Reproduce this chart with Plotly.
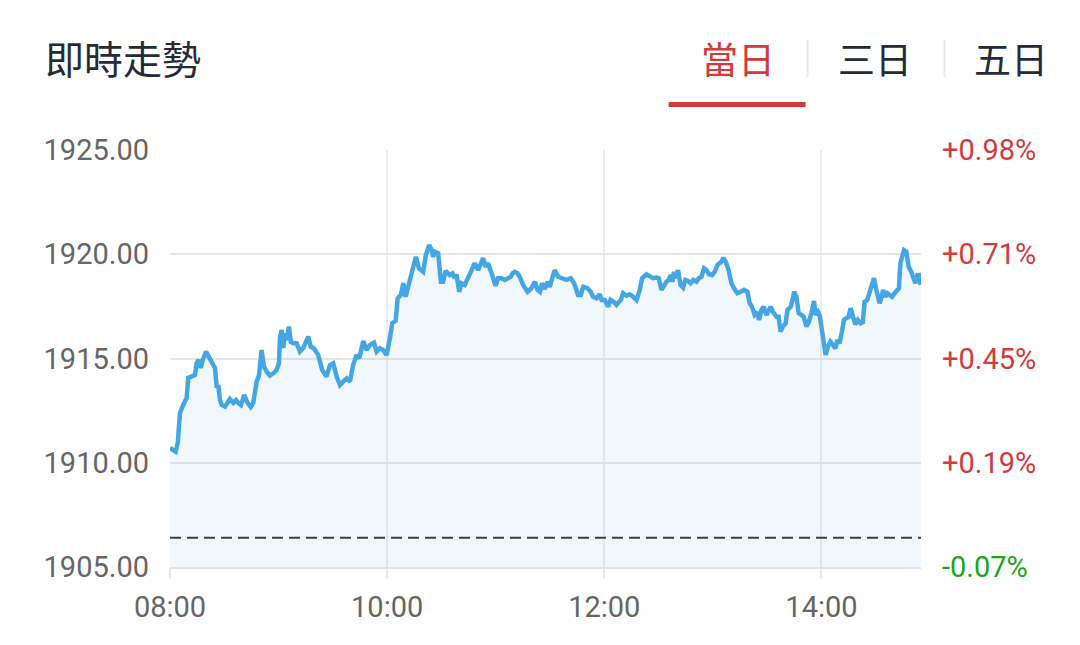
import plotly.graph_objects as go

# ---------------- data ----------------
# minutes after 08:00
minutes = [
    0, 3.1, 4.3, 5.5, 7.3, 9.2, 10.1, 12.0, 13.8, 14.7, 16.0, 17.0, 18.1, 19.9, 22.1, 23.9, 24.9, 25.8, 26.7, 27.6,
    28.6, 30.4, 33.1, 35.0, 36.5, 37.7, 39.2, 41.0, 42.9, 44.6, 46.0, 47.9, 49.2, 50.6, 51.9, 53.4, 55.2, 57.1, 58.9, 60.2,
    60.8, 61.7, 62.6, 63.5, 64.5, 65.7, 66.8, 68.1, 70.0, 71.8, 73.6, 76.4, 77.7, 79.5, 81.9,
    84.1, 86.5, 88.4, 90.2, 92.1, 93.9, 95.7, 97.6, 99.4, 101.2, 103.1, 104.6, 106.8, 108.6, 110.5, 112.7, 114.2, 116.0,
    117.8, 119.7, 121.5, 122.8, 124.7, 125.8, 127.6, 128.9, 130.2, 131.6, 133.5, 135.9, 137.5, 139.9, 141.4, 143.2, 144.6,
    145.4, 146.4, 148.2, 149.7, 150.9, 152.3, 154.6, 156.1, 157.4, 158.3, 159.8, 161.1, 162.9,
    165.7, 168.4, 170.3, 173.0, 174.4, 175.8, 177.7, 179.9, 181.3, 183.2, 185.0, 186.8, 188.3, 189.3, 190.5, 192.0, 193.3,
    195.1, 197.6, 199.7, 201.6, 203.1, 204.4, 205.6, 207.1, 208.6, 209.9, 211.2, 212.6, 214.5, 216.3, 219.1, 221.5, 223.3,
    225.5, 227.0, 228.3, 230.7, 232.5, 233.8, 235.7, 237.5, 238.5, 240.3, 242.1, 243.4, 245.2, 246.7,
    249.1, 250.4, 252.2, 254.0, 255.9, 257.8, 259.6, 260.9, 263.3, 265.1, 266.9, 268.8, 270.1, 271.6, 273.0, 274.3, 275.6,
    276.7, 277.6, 278.5, 279.5, 280.7, 282.1, 283.5, 284.8, 286.3, 287.7, 289.2, 290.9, 292.2, 293.7, 295.1, 296.4, 297.9,
    299.5, 301.0, 302.5, 303.8, 304.7, 305.8, 307.1, 308.7, 310.2, 311.7, 313.5, 315.4, 317.2, 319.1, 320.3, 321.6, 323.1,
    324.6, 325.5, 326.8, 328.1, 329.6,
    331.9, 333.2, 335.1, 336.3, 337.4, 338.7, 340.2, 341.2, 343.0, 344.0, 344.9, 346.2, 347.4, 348.9, 350.2, 351.7, 353.1,
    354.4, 355.9, 356.8, 358.1, 359.0, 360.3, 361.4, 362.3, 363.6, 364.9, 366.3, 367.7, 368.8, 370.0, 371.3, 372.4, 373.7,
    375.0, 376.1, 377.4, 378.7, 380.1, 381.6, 382.9, 383.8, 385.3, 386.6, 387.9, 389.0, 390.3, 391.2, 392.1, 393.1, 394.0,
    395.3, 396.4, 397.7, 399.0, 400.4, 401.9, 402.8, 403.6, 404.7, 405.6, 406.9, 408.2, 409.6, 410.9, 411.9, 413.0, 413.9,
    414.8,
]

prices = [
    1910.71, 1910.53, 1910.95, 1912.39, 1912.77, 1913.11, 1914.07, 1914.13, 1914.21, 1914.78, 1914.93, 1914.54, 1914.93,
    1915.33, 1915.02, 1914.69, 1914.54, 1913.59, 1913.73, 1913.01, 1912.77, 1912.69, 1913.06, 1912.87, 1913.01, 1912.87,
    1912.77, 1913.25, 1912.87, 1912.67, 1912.87, 1913.89, 1914.21, 1915.41, 1914.61, 1914.37, 1914.18, 1914.29, 1914.45,
    1914.77, 1916.05, 1916.37, 1915.50, 1916.21, 1915.89, 1916.53, 1915.81, 1915.73, 1915.73, 1915.33, 1915.50, 1916.05,
    1915.57, 1915.49, 1915.17,
    1914.45, 1914.13, 1914.69, 1914.77, 1914.13, 1913.73, 1913.89, 1914.05, 1913.89, 1914.69, 1915.17, 1915.01, 1915.84,
    1915.41, 1915.65, 1915.76, 1915.33, 1915.49, 1915.41, 1915.17, 1915.97, 1916.69, 1916.81, 1917.89, 1918.05, 1918.61,
    1917.96, 1918.53, 1919.09, 1919.88, 1919.33, 1919.16, 1919.96, 1920.44, 1920.20, 1919.88, 1920.12, 1920.05, 1918.68,
    1918.68, 1919.20, 1919.00, 1919.08, 1918.85, 1919.04, 1918.20, 1918.61, 1918.53,
    1919.00, 1919.57, 1919.24, 1919.81, 1919.40, 1919.57, 1919.09, 1918.49, 1918.85, 1918.85, 1918.77, 1918.85, 1918.92,
    1919.09, 1919.16, 1919.09, 1918.92, 1918.53, 1918.20, 1918.37, 1918.68, 1918.29, 1918.20, 1918.61, 1918.33, 1918.68,
    1918.44, 1918.85, 1919.24, 1918.92, 1918.85, 1918.77, 1918.85, 1918.61, 1918.05, 1918.05, 1918.44, 1918.37, 1918.20,
    1917.96, 1917.89, 1918.08, 1917.81, 1917.81, 1917.48, 1917.81, 1917.72, 1917.57,
    1917.81, 1918.13, 1918.01, 1918.08, 1917.96, 1917.81, 1918.29, 1918.85, 1919.04, 1918.96, 1918.85, 1918.88, 1918.85,
    1918.29, 1918.53, 1918.68, 1918.77, 1919.00, 1918.68, 1919.16, 1918.85, 1919.24, 1918.53, 1918.40, 1918.77, 1918.72,
    1918.61, 1918.77, 1918.68, 1918.85, 1918.92, 1919.33, 1919.24, 1919.04, 1919.00, 1919.16, 1919.48, 1919.57, 1919.64,
    1919.83, 1919.64, 1919.24, 1918.61, 1918.37, 1918.13, 1918.20, 1918.29, 1918.20, 1917.65, 1917.48, 1917.09, 1917.22,
    1916.85, 1917.33, 1917.48, 1917.09,
    1917.48, 1917.24, 1917.00, 1917.00, 1916.29, 1916.53, 1916.69, 1917.33, 1917.48, 1917.81, 1918.20, 1917.96, 1917.17,
    1917.09, 1917.00, 1916.53, 1916.77, 1917.17, 1917.76, 1917.09, 1917.24, 1917.09, 1916.29, 1915.57, 1915.17, 1915.57,
    1915.81, 1915.65, 1915.49, 1915.89, 1915.73, 1916.29, 1916.85, 1916.93, 1917.00, 1917.41, 1917.00, 1916.64, 1916.85,
    1916.69, 1916.74, 1917.72, 1917.81, 1918.13, 1918.44, 1918.85, 1918.29, 1917.81, 1917.65, 1917.89, 1918.29, 1917.96,
    1918.13, 1918.05, 1917.96, 1918.13, 1918.32, 1918.37, 1919.57, 1919.96, 1920.20, 1920.12, 1919.40, 1919.16, 1918.77,
    1918.61, 1919.00, 1919.00, 1918.53,
]

prev_close = 1906.4

x_tick_vals = [0, 120, 240, 360]
x_tick_labels = ["08:00", "10:00", "12:00", "14:00"]
y_tick_vals = [1905, 1910, 1915, 1920, 1925]
y_tick_labels = ["1905.00", "1910.00", "1915.00", "1920.00", "1925.00"]
pct_labels = ["-0.07%", "+0.19%", "+0.45%", "+0.71%", "+0.98%"]

title_text = "即時走勢"
tabs = ["當日", "三日", "五日"]

# ---------------- styling ----------------
RED = "#d43a3b"
GREEN = "#1ea51e"
DARK = "#262b38"
GRAY_TXT = "#666666"
LINE = "#45a6e6"
CJK = "Noto Sans CJK TC"
NUM = "Roboto"

fig = go.Figure()
fig.add_trace(go.Scatter(
    x=minutes, y=prices, mode="lines",
    line=dict(color=LINE, width=4.5),
    fill="tozeroy", fillcolor="rgba(69,165,229,0.08)",
    hoverinfo="skip", showlegend=False,
))

# previous-close dashed line
fig.add_shape(type="line", xref="paper", x0=0, x1=1, yref="y", y0=prev_close, y1=prev_close,
              line=dict(color="#3b4049", width=2, dash="11px,6px"))

# right-side percentage labels
for v, t in zip(y_tick_vals, pct_labels):
    fig.add_annotation(xref="paper", x=1, yref="y", y=v, text=t, showarrow=False,
                       xanchor="left", yanchor="middle", xshift=19,
                       font=dict(family=NUM, size=29, color=GREEN if t.startswith("-") else RED))

# header (positions given in page pixels, converted to paper coords)
PW, PH, L, B = 751.5, 417.0, 170.0, 567.0
def px(xp):
    return (xp - L) / PW
def py(yp):
    return (B - yp) / PH

fig.add_annotation(xref="paper", yref="paper", x=px(43), y=py(57), text=title_text, showarrow=False,
                   xanchor="left", yanchor="middle", font=dict(family=CJK, size=39, color=DARK))
tab_centers = [738, 875, 1012]
for i, (t, cx) in enumerate(zip(tabs, tab_centers)):
    fig.add_annotation(xref="paper", yref="paper", x=px(cx), y=py(58), text=t, showarrow=False,
                       xanchor="center", yanchor="middle",
                       font=dict(family=CJK, size=37, color=RED if i == 0 else DARK))
for sx in [808, 945]:
    fig.add_shape(type="line", xref="paper", yref="paper", x0=px(sx), x1=px(sx), y0=py(40), y1=py(77),
                  line=dict(color="#e6e6e6", width=2))
fig.add_shape(type="rect", xref="paper", yref="paper", x0=px(669), x1=px(806), y0=py(107), y1=py(102),
              line=dict(width=0), fillcolor=RED)

fig.update_layout(
    width=1080, height=645, autosize=False,
    margin=dict(l=162, r=166.5, t=142, b=86),
    paper_bgcolor="white", plot_bgcolor="white",
    xaxis=dict(range=[0, 415], tickvals=x_tick_vals, ticktext=x_tick_labels,
               showgrid=True, gridcolor="#ececec", gridwidth=2, zeroline=False,
               ticks="outside", ticklen=10, tickwidth=2, tickcolor="#e6e6e6",
               ticklabelstandoff=3, showline=True, linecolor="#e3e3e3", linewidth=2,
               tickfont=dict(family=NUM, size=29, color=GRAY_TXT), fixedrange=True),
    yaxis=dict(range=[1905, 1925], tickvals=y_tick_vals, ticktext=y_tick_labels,
               showgrid=True, gridcolor="#e6e6e6", gridwidth=2, zeroline=False,
               ticks="", ticklabelstandoff=20,
               tickfont=dict(family=NUM, size=29, color=GRAY_TXT), fixedrange=True),
)

fig.write_html("out.html")
